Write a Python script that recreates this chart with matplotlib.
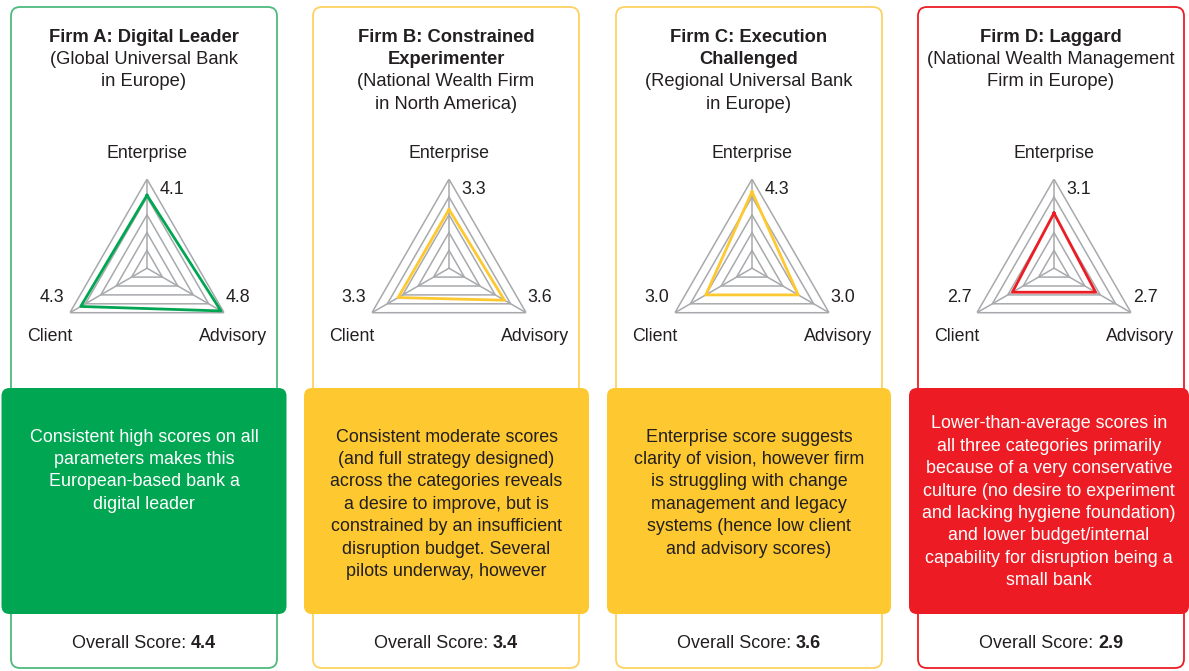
import numpy as np
import matplotlib
matplotlib.use("Agg")
import matplotlib.pyplot as plt
from matplotlib.patches import FancyBboxPatch

plt.rcParams['font.family'] = ['Liberation Sans', 'DejaVu Sans']

# ---------------- data ----------------
categories = ["Enterprise", "Advisory", "Client"]
firm_titles = ["Firm A: Digital Leader", "Firm B: Constrained\nExperimenter",
               "Firm C: Execution\nChallenged", "Firm D: Laggard"]
firm_subtitles = ["(Global Universal Bank\nin Europe)",
                  "(National Wealth Firm\nin North America)",
                  "(Regional Universal Bank\nin Europe)",
                  "(National Wealth Management\nFirm in Europe)"]
enterprise_scores = [4.1, 3.3, 4.3, 3.1]
advisory_scores = [4.8, 3.6, 3.0, 2.7]
client_scores = [4.3, 3.3, 3.0, 2.7]
overall_scores = [4.4, 3.4, 3.6, 2.9]
descriptions = [
    ["Consistent high scores on all", "parameters makes this",
     "European-based bank a", "digital leader"],
    ["Consistent moderate scores", "(and full strategy designed)",
     "across the categories reveals", "a desire to improve, but is",
     "constrained by an insufficient", "disruption budget. Several",
     "pilots underway, however"],
    ["Enterprise score suggests", "clarity of vision, however firm",
     "is struggling with change", "management and legacy",
     "systems (hence low client", "and advisory scores)"],
    ["Lower-than-average scores in", "all three categories primarily",
     "because of a very conservative", "culture (no desire to experiment",
     "and lacking hygiene foundation)", "and lower budget/internal",
     "capability for disruption being a", "small bank"],
]
scale_max = 5
ring_levels = [1, 2, 3, 4, 5]

# ---------------- styling ----------------
W, H = 1189, 671
main_colors = ["#00A651", "#FDC830", "#FDC830", "#ED1C24"]
border_colors = ["#4DBB7E", "#FDD263", "#FDD263", "#ED1C24"]
desc_text_colors = ["white", "#231F20", "#231F20", "white"]
dark = "#231F20"
grid_col = "#A7A9AC"

card_x = [(11, 277), (313, 579), (616, 882), (918, 1184)]
box_x = [(1.5, 286.5), (304, 589), (607, 891), (909, 1189)]
card_top, card_bot = 7, 668
box_top, box_bot = 388, 614
radar_dx = [3, 3, 3, 3]
radar_cy = 268.2
radar_R = 89
desc_y0 = [437, 437, 437, 424]
line_h = 22.4

fig = plt.figure(figsize=(W / 100, H / 100), dpi=100)
bg = fig.add_axes([0, 0, 1, 1])
bg.set_xlim(0, W)
bg.set_ylim(H, 0)
bg.axis("off")

fs_title = 13.2
fs_sub = 13.2
fs_desc = 12.9
fs_lab = 12.8
fs_score = 13.0

for i in range(4):
    x0, x1 = card_x[i]
    cx = (x0 + x1) / 2
    card = FancyBboxPatch((x0, card_top), x1 - x0, card_bot - card_top,
                          boxstyle="round,pad=0,rounding_size=9",
                          fc="white", ec=border_colors[i], lw=1.3, zorder=1)
    bg.add_patch(card)
    bx0, bx1 = box_x[i]
    box = FancyBboxPatch((bx0, box_top), bx1 - bx0, box_bot - box_top,
                         boxstyle="round,pad=0,rounding_size=8",
                         fc=main_colors[i], ec="none", zorder=2)
    bg.add_patch(box)

    # title & subtitle
    y = 37
    for t in firm_titles[i].split("\n"):
        bg.text(cx, y, t, ha="center", va="center", fontsize=fs_title,
                fontweight="bold", color=dark, zorder=3)
        y += line_h
    for t in firm_subtitles[i].split("\n"):
        bg.text(cx, y, t, ha="center", va="center", fontsize=fs_sub,
                color=dark, zorder=3)
        y += line_h

    # description
    bcx = (bx0 + bx1) / 2
    for k, t in enumerate(descriptions[i]):
        bg.text(bcx, desc_y0[i] + k * line_h, t, ha="center", va="center",
                fontsize=fs_desc, color=desc_text_colors[i], zorder=3)

    # overall score
    split = cx + 47
    bg.text(split, 643, "Overall Score: ", ha="right", va="center",
            fontsize=fs_score, color=dark, zorder=3)
    bg.text(split, 643, f"{overall_scores[i]:.1f}", ha="left", va="center",
            fontsize=fs_score, fontweight="bold", color=dark, zorder=3)

    # radar
    rcx = cx + radar_dx[i]
    rax = fig.add_axes([(rcx - radar_R) / W, 1 - (radar_cy + radar_R) / H,
                        2 * radar_R / W, 2 * radar_R / H], projection="polar")
    rax.set_theta_offset(np.pi / 2)
    rax.set_theta_direction(-1)
    rax.set_ylim(0, scale_max)
    rax.axis("off")
    rax.patch.set_alpha(0)
    angles = np.array([0, 2 * np.pi / 3, 4 * np.pi / 3, 2 * np.pi])
    for lvl in ring_levels:
        rax.plot(angles, [lvl] * 4, color=grid_col, lw=1.1, zorder=1)
    for a in angles[:3]:
        rax.plot([a, a], [0, scale_max], color=grid_col, lw=1.1, zorder=1)
    vals = [enterprise_scores[i], advisory_scores[i], client_scores[i]]
    rax.plot(angles, vals + [vals[0]], color=main_colors[i], lw=2.0, zorder=3)

    # radar labels
    bg.text(rcx, 154, categories[0], ha="center", va="center",
            fontsize=fs_lab, color=dark, zorder=3)
    bg.text(rcx - 97, 336.5, categories[2], ha="center", va="center",
            fontsize=fs_lab, color=dark, zorder=3)
    bg.text(rcx + 86, 336.5, categories[1], ha="center", va="center",
            fontsize=fs_lab, color=dark, zorder=3)
    bg.text(rcx + 25, 189, f"{enterprise_scores[i]:.1f}", ha="center",
            va="center", fontsize=fs_lab, color=dark, zorder=3)
    bg.text(rcx - 95, 297, f"{client_scores[i]:.1f}", ha="center",
            va="center", fontsize=fs_lab, color=dark, zorder=3)
    bg.text(rcx + 91, 297, f"{advisory_scores[i]:.1f}", ha="center",
            va="center", fontsize=fs_lab, color=dark, zorder=3)

fig.savefig("out.png", dpi=100)
